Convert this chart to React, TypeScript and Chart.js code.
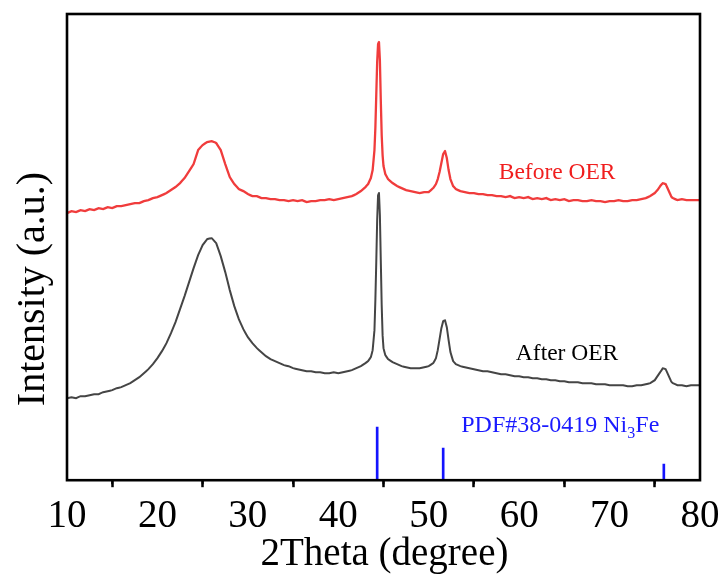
import React, { useEffect, useRef } from 'react';
import { Chart, registerables } from 'chart.js';

Chart.register(...registerables);

// 2θ positions (degree)
const twoTheta = [
  10, 10.5, 11, 11.5, 12, 12.5, 13, 13.5, 14, 14.5,
  15, 15.5, 16, 16.5, 17, 17.5, 18, 18.5, 19, 19.5,
  20, 20.5, 21, 21.5, 22, 22.5, 23, 23.5, 24, 24.5,
  25, 25.5, 26, 26.5, 27, 27.5, 28, 28.5, 29, 29.5,
  30, 30.5, 31, 31.5, 32, 32.5, 33, 33.5, 34, 34.5,
  35, 35.5, 36, 36.5, 37, 37.5, 38, 38.5, 39, 39.5,
  40, 40.5, 41, 41.5, 42, 42.5, 43,
  43.3, 43.6, 43.8, 44.0, 44.1, 44.2, 44.3, 44.4, 44.5, 44.6, 44.7, 44.8, 44.9, 45.0, 45.2,
  45.5, 46, 46.5, 47, 47.5, 48, 48.5, 49, 49.5, 50, 50.5,
  50.8, 51.0, 51.2, 51.4, 51.6, 51.8, 52.0, 52.2, 52.4, 52.7,
  53, 53.5, 54, 54.5, 55, 55.5, 56, 56.5, 57, 57.5,
  58, 58.5, 59, 59.5, 60, 60.5, 61, 61.5, 62, 62.5,
  63, 63.5, 64, 64.5, 65, 65.5, 66, 66.5, 67, 67.5,
  68, 68.5, 69, 69.5, 70, 70.5, 71, 71.5, 72, 72.5,
  73, 73.5, 74, 74.5, 75,
  75.3, 75.6, 75.9, 76.2, 76.5, 76.8,
  77, 77.5, 78, 78.5, 79, 79.5, 80,
];

// Intensity (a.u., stacked) – Before OER
const beforeOER = [
  267, 269, 268, 270, 269, 271, 270, 272, 271, 273,
  272, 274, 274, 275, 276, 277, 277, 279, 280, 282,
  283, 285, 287, 290, 293, 297, 302, 309, 316, 330,
  335, 338, 339, 337, 330, 316, 303, 296, 291, 289,
  286, 284, 284, 282, 282, 281, 281, 280, 280, 279,
  280, 279, 280, 278, 279, 279, 280, 280, 281, 280,
  281, 282, 283, 284, 286, 289, 293,
  296, 302, 310, 330, 352, 385, 418, 436, 438, 420, 380, 345, 325, 314, 306,
  301, 297, 294, 292, 290, 289, 288, 287, 288, 288, 292,
  296, 301, 308, 317, 326, 329, 322, 310, 301, 294,
  291, 289, 288, 287, 287, 286, 286, 285, 285, 284,
  284, 283, 284, 282, 283, 282, 283, 281, 282, 281,
  282, 280, 281, 280, 281, 279, 280, 280, 279, 279,
  280, 279, 279, 278, 279, 279, 280, 279, 279, 280,
  280, 281, 282, 284, 287,
  290, 294, 297, 296, 290, 284,
  282, 280, 281, 280, 280, 280, 280,
];

// Intensity (a.u., stacked) – After OER
const afterOER = [
  82, 83, 82, 84, 84, 85, 86, 86, 88, 89,
  90, 92, 93, 95, 97, 100, 103, 107, 111, 116,
  122, 129, 137, 147, 158, 171, 184, 198, 212, 225,
  235, 241, 242, 237, 224, 208, 190, 174, 161, 151,
  143, 137, 132, 128, 124, 121, 119, 117, 115, 114,
  112, 111, 110, 109, 109, 108, 108, 107, 107, 108,
  107, 108, 109, 110, 112, 114, 117,
  119, 123, 130, 150, 180, 218, 260, 285, 287, 265, 220, 175, 145, 132, 125,
  121, 118, 116, 114, 113, 112, 112, 112, 113, 114, 117,
  122, 130, 141, 152, 159, 160, 153, 140, 128, 119,
  116, 114, 113, 112, 111, 110, 109, 109, 108, 107,
  106, 106, 105, 104, 104, 103, 103, 102, 102, 101,
  101, 100, 100, 99, 99, 98, 98, 98, 97, 97,
  97, 96, 96, 96, 95, 95, 95, 95, 94, 94,
  95, 95, 96, 97, 100,
  104, 108, 112, 111, 105, 99,
  97, 95, 95, 94, 95, 95, 95,
];

// Reference pattern PDF#38-0419 Ni3Fe
const pdfPositions = [44.3, 51.6, 76.0];
const pdfIntensities = [53, 32, 16];

const majorTicks = [10, 20, 30, 40, 50, 60, 70, 80];
const minorTicks = [15, 25, 35, 45, 55, 65, 75];

const xTitle = '2Theta (degree)';
const yTitle = 'Intensity (a.u.)';
const labelBefore = 'Before OER';
const labelAfter = 'After OER';
const labelPdfMain = 'PDF#38-0419 Ni';
const labelPdfSub = '3';
const labelPdfEnd = 'Fe';

const SERIF = "'Liberation Serif', 'Times New Roman', serif";

const decor = {
  id: 'decor',
  afterDraw(chart: any) {
    const { ctx, chartArea: a, scales } = chart;
    const x = scales.x;
    const y = scales.y;
    ctx.save();
    // frame
    ctx.strokeStyle = '#000';
    ctx.lineWidth = 2.6;
    ctx.strokeRect(a.left, a.top, a.right - a.left, a.bottom - a.top);
    // minor ticks
    ctx.lineWidth = 2;
    minorTicks.forEach((v) => {
      const px = x.getPixelForValue(v);
      ctx.beginPath();
      ctx.moveTo(px, a.bottom);
      ctx.lineTo(px, a.bottom + 4);
      ctx.stroke();
    });
    // axis titles
    ctx.fillStyle = '#000';
    ctx.font = `39px ${SERIF}`;
    ctx.textAlign = 'center';
    ctx.textBaseline = 'alphabetic';
    ctx.fillText(xTitle, (a.left + a.right) / 2 + 1, 565);
    ctx.save();
    ctx.translate(44, 289);
    ctx.rotate(-Math.PI / 2);
    ctx.font = `40px ${SERIF}`;
    ctx.fillText(yTitle, 0, 0);
    ctx.restore();
    // series labels
    ctx.font = `23.5px ${SERIF}`;
    ctx.textAlign = 'center';
    ctx.fillStyle = '#f01e1e';
    ctx.fillText(labelBefore, x.getPixelForValue(64.2), y.getPixelForValue(301));
    ctx.fillStyle = '#000';
    ctx.fillText(labelAfter, x.getPixelForValue(65.3), y.getPixelForValue(120));
    // PDF label with subscript
    ctx.textAlign = 'left';
    ctx.fillStyle = '#1a1aff';
    ctx.font = `24px ${SERIF}`;
    let px = x.getPixelForValue(53.6);
    const py = y.getPixelForValue(48);
    ctx.fillText(labelPdfMain, px, py);
    px += ctx.measureText(labelPdfMain).width;
    ctx.font = `16px ${SERIF}`;
    ctx.fillText(labelPdfSub, px, py + 6);
    px += ctx.measureText(labelPdfSub).width;
    ctx.font = `24px ${SERIF}`;
    ctx.fillText(labelPdfEnd, px, py);
    ctx.restore();
  },
};

export default function App() {
  const ref = useRef<HTMLCanvasElement>(null);
  useEffect(() => {
    document.body.style.margin = '0';
    Chart.defaults.font.family = SERIF;
    const canvas = ref.current;
    if (!canvas) return;
    const chart = new Chart(canvas, {
      type: 'line',
      data: {
        datasets: [
          {
            type: 'line',
            label: labelAfter,
            data: twoTheta.map((t, i) => ({ x: t, y: afterOER[i] })),
            borderColor: '#454545',
            borderWidth: 2,
            pointRadius: 0,
            tension: 0.01,
            order: 2,
          },
          {
            type: 'line',
            label: labelBefore,
            data: twoTheta.map((t, i) => ({ x: t, y: beforeOER[i] })),
            borderColor: '#f03c3c',
            borderWidth: 2.3,
            pointRadius: 0,
            tension: 0.01,
            order: 1,
          },
          {
            type: 'bar',
            label: 'PDF#38-0419 Ni3Fe',
            data: pdfPositions.map((p, i) => ({ x: p, y: pdfIntensities[i] })),
            backgroundColor: '#1414ff',
            barThickness: 2,
            order: 0,
          } as any,
        ],
      },
      options: {
        responsive: false,
        animation: false,
        layout: { padding: { left: 67, right: 26, top: 14, bottom: 32 } },
        plugins: { legend: { display: false }, tooltip: { enabled: false } },
        scales: {
          x: {
            type: 'linear',
            min: 10,
            max: 80,
            offset: false,
            afterBuildTicks: (s: any) => {
              s.ticks = majorTicks.map((v) => ({ value: v }));
            },
            ticks: {
              color: '#000',
              font: { family: SERIF, size: 39, lineHeight: 1.2 },
              padding: 6,
              maxRotation: 0,
              autoSkip: false,
            },
            grid: {
              display: true,
              drawOnChartArea: false,
              drawTicks: true,
              tickLength: 7,
              tickWidth: 2.5,
              tickColor: '#000',
            },
            border: { display: false },
          },
          y: { type: 'linear', display: false, min: 0, max: 466 },
        },
      },
      plugins: [decor],
    });
    return () => chart.destroy();
  }, []);
  return (
    <div style={{ position: 'absolute', left: 0, top: 0, width: 726, height: 578 }}>
      <canvas ref={ref} width={726} height={578} style={{ display: 'block' }} />
    </div>
  );
}
